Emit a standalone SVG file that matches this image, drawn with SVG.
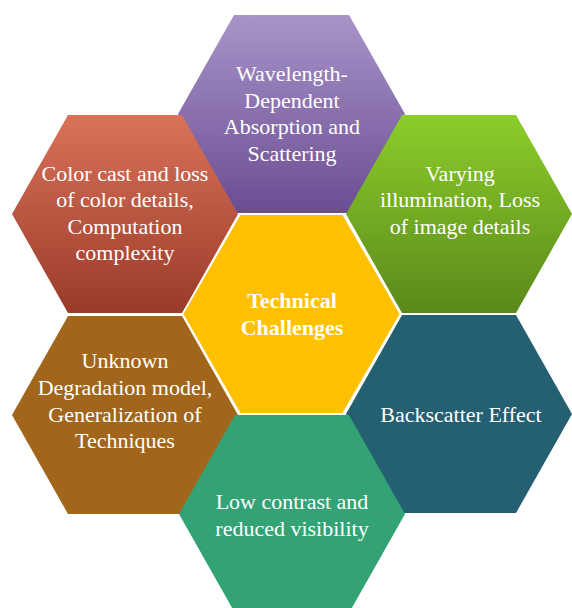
<svg xmlns="http://www.w3.org/2000/svg" width="572" height="608" viewBox="0 0 572 608">
  <style>
    .lbl { font-family: "Liberation Serif", "Times New Roman", serif; font-size: 22px; fill: #ffffff; text-anchor: middle; }
    .bold { font-weight: bold; }
  </style>
  <defs>
    <linearGradient id="gPurple" x1="0" y1="0" x2="0" y2="1">
      <stop offset="0" stop-color="#A894C9"/>
      <stop offset="1" stop-color="#6B4D92"/>
    </linearGradient>
    <linearGradient id="gRed" x1="0" y1="0" x2="0" y2="1">
      <stop offset="0" stop-color="#DA725A"/>
      <stop offset="1" stop-color="#993B29"/>
    </linearGradient>
    <linearGradient id="gGreen" x1="0" y1="0" x2="0" y2="1">
      <stop offset="0" stop-color="#8CCD2B"/>
      <stop offset="1" stop-color="#5B891A"/>
    </linearGradient>
  </defs>
  <rect width="572" height="608" fill="#ffffff"/>

  <g id="hex-top">
    <polygon points="178,114 234,15 349,15 405,114 348,213 235,213" fill="url(#gPurple)"/>
    <text class="lbl" x="292" y="81">Wavelength-</text>
    <text class="lbl" x="292" y="108">Dependent</text>
    <text class="lbl" x="292" y="134">Absorption and</text>
    <text class="lbl" x="292" y="161">Scattering</text>
  </g>

  <g id="hex-upper-left">
    <polygon points="12,214 68,115 182,115 238,214 182,313 68,313" fill="url(#gRed)"/>
    <text class="lbl" x="125" y="181">Color cast and loss</text>
    <text class="lbl" x="125" y="207">of color details,</text>
    <text class="lbl" x="125" y="234">Computation</text>
    <text class="lbl" x="125" y="260">complexity</text>
  </g>

  <g id="hex-upper-right">
    <polygon points="346,214 402,115 516,115 572,214 516,313 402,313" fill="url(#gGreen)"/>
    <text class="lbl" x="460" y="181">Varying</text>
    <text class="lbl" x="460" y="207">illumination, Loss</text>
    <text class="lbl" x="460" y="234">of image details</text>
  </g>

  <g id="hex-center">
    <polygon points="183.5,314 240.5,215 342.5,215 399.5,314 342.5,413 240.5,413" fill="#FFC000"/>
    <text class="lbl bold" x="292" y="308">Technical</text>
    <text class="lbl bold" x="292" y="335">Challenges</text>
  </g>

  <g id="hex-lower-left">
    <polygon points="12,415 68,316 182,316 238,415 182,514 68,514" fill="#A1661C"/>
    <text class="lbl" x="125" y="368">Unknown</text>
    <text class="lbl" x="125" y="395">Degradation model,</text>
    <text class="lbl" x="125" y="422">Generalization of</text>
    <text class="lbl" x="125" y="448">Techniques</text>
  </g>

  <g id="hex-lower-right">
    <polygon points="346,414 402,315 516,315 572,414 516,513 402,513" fill="#245F72"/>
    <text class="lbl" x="461" y="422">Backscatter Effect</text>
  </g>

  <g id="hex-bottom">
    <polygon points="179,514 235,415 349,415 405,514 349,613 235,613" fill="#33A375"/>
    <text class="lbl" x="292" y="509">Low contrast and</text>
    <text class="lbl" x="292" y="536">reduced visibility</text>
  </g>

  <g id="connectors"></g>
</svg>
